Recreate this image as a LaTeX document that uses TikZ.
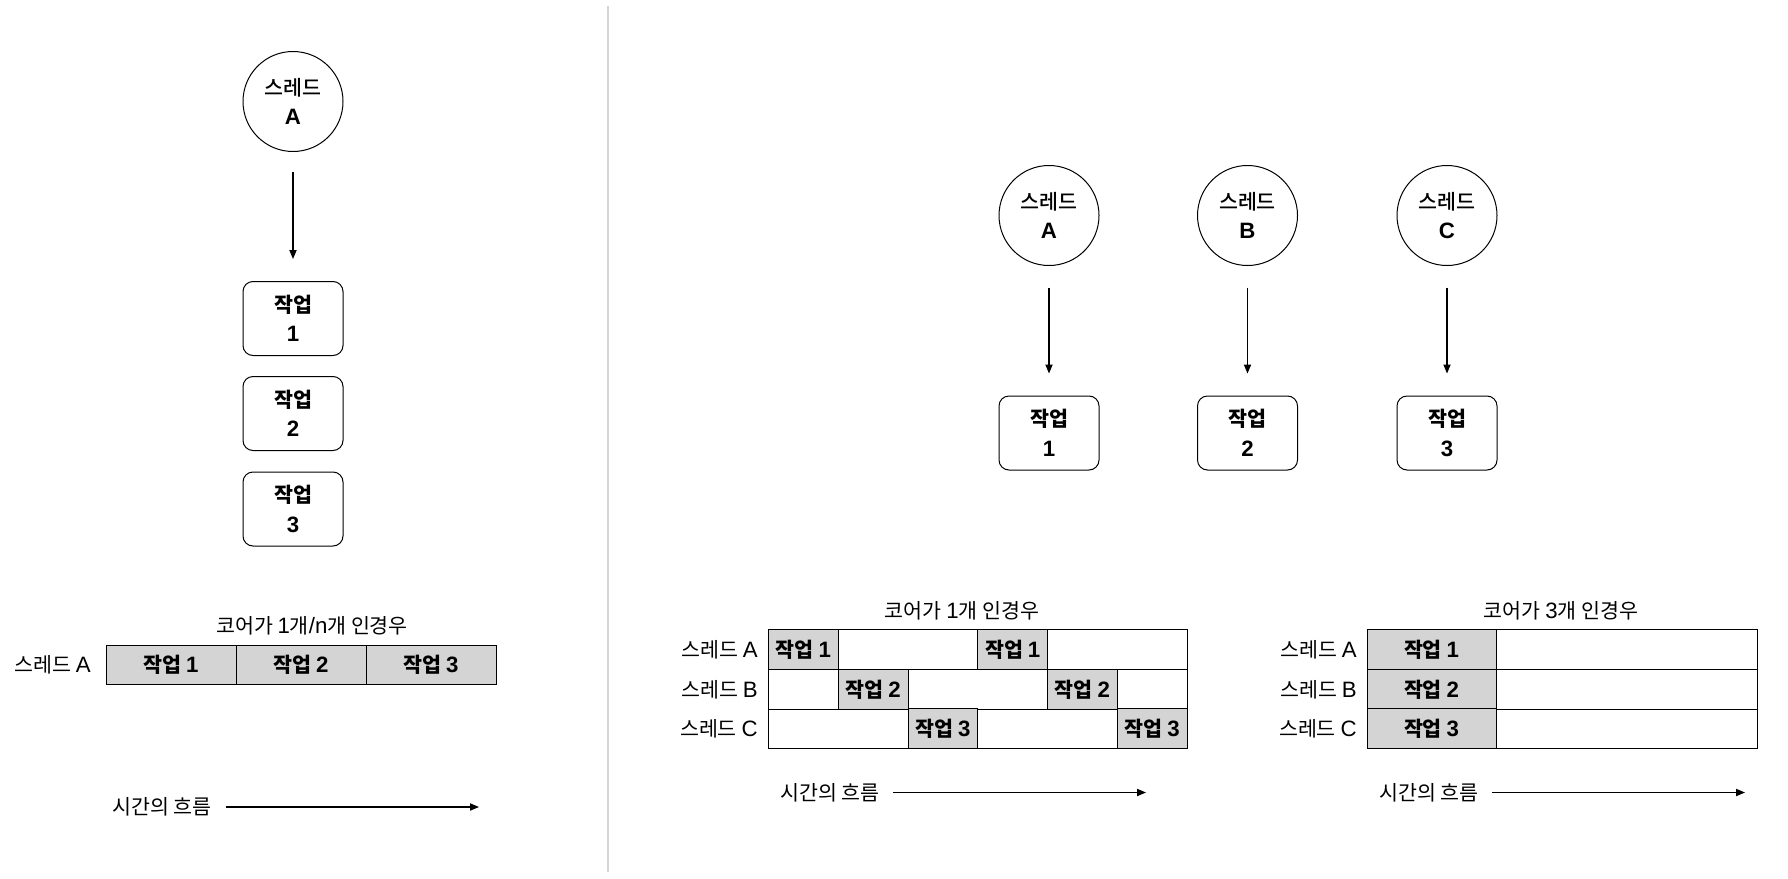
\documentclass[tikz,border=0pt]{standalone}
\usepackage{fontspec}
\setmainfont{Noto Sans CJK KR}
\newfontfamily\lat[Scale=1.08]{Liberation Sans}
\newfontfamily\med{Noto Sans CJK KR Medium}
\usetikzlibrary{arrows.meta}
\definecolor{cellgray}{RGB}{212,212,212}
\definecolor{divgray}{RGB}{212,212,212}
\begin{document}
\begin{tikzpicture}[x=0.5pt,y=-0.5pt,
  every node/.style={font=\fontsize{10.3pt}{14.8pt}\selectfont, inner sep=0pt},
  thread/.style={circle, draw, line width=0.5pt, minimum size=50pt, align=center},
  task/.style={rectangle, rounded corners=5pt, draw, line width=0.5pt, minimum width=50pt, minimum height=37pt, align=center},
  flow/.style={line width=0.6pt, -{Triangle[length=4.5pt,width=3.6pt]}},
  cell/.style={rectangle, draw, fill=cellgray, line width=0.5pt, font=\fontsize{10.3pt}{12pt}\selectfont\bfseries},
  rowbox/.style={draw, line width=0.5pt, fill=white},
]
\useasboundingbox (0,0) rectangle (1788,878);

% divider
\draw[divgray, line width=0.6pt] (608,6) -- (608,872);

% ---------- left panel ----------
\node[thread] (LA) at (293,101.5) {{\med 스레드}\\{\lat\bfseries A}};
\node[task] (LT1) at (293,318.5) {\bfseries 작업\\{\lat\bfseries 1}};
\node[task] (LT2) at (293,413.5) {\bfseries 작업\\{\lat\bfseries 2}};
\node[task] (LT3) at (293,509) {\bfseries 작업\\{\lat\bfseries 3}};
\draw[flow, shorten <=10pt, shorten >=11pt] (LA) -- (LT1);

\node (LTitle) at (312,626) {코어가 {\lat 1}개{\lat /n}개 인경우};
\node[anchor=east] (LRow) at (91,665) {스레드 {\lat A}};
\node[cell, minimum width=65pt, minimum height=19.5pt] (L1) at (171,664.5) {작업 {\lat\bfseries 1}};
\node[cell, minimum width=65pt, minimum height=19.5pt] (L2) at (301,664.5) {작업 {\lat\bfseries 2}};
\node[cell, minimum width=65pt, minimum height=19.5pt] (L3) at (431,664.5) {작업 {\lat\bfseries 3}};

\node[anchor=east] (LTime) at (212,807) {시간의 흐름};
\coordinate (LTs) at (226,807);
\coordinate (LTe) at (479,807);
\draw[flow] (LTs) -- (LTe);

% ---------- right top ----------
\node[thread] (RA) at (1049,215.5) {{\med 스레드}\\{\lat\bfseries A}};
\node[thread] (RB) at (1247.5,215.5) {{\med 스레드}\\{\lat\bfseries B}};
\node[thread] (RC) at (1447,215.5) {{\med 스레드}\\{\lat\bfseries C}};
\node[task] (RT1) at (1049,433) {\bfseries 작업\\{\lat\bfseries 1}};
\node[task] (RT2) at (1247.5,433) {\bfseries 작업\\{\lat\bfseries 2}};
\node[task] (RT3) at (1447,433) {\bfseries 작업\\{\lat\bfseries 3}};
\draw[flow, shorten <=10.75pt, shorten >=11pt] (RA) -- (RT1);
\draw[flow, shorten <=10.75pt, shorten >=11pt] (RB) -- (RT2);
\draw[flow, shorten <=10.75pt, shorten >=11pt] (RC) -- (RT3);

% ---------- middle timeline (1 core) ----------
\node (MTitle) at (962,611) {코어가 {\lat 1}개 인경우};
\node[anchor=east] (MRA) at (758,650) {스레드 {\lat A}};
\node[anchor=east] (MRB) at (758,689.5) {스레드 {\lat B}};
\node[anchor=east] (MRC) at (758,728.5) {스레드 {\lat C}};
\draw[rowbox] (768.6,629.5) rectangle (1187,669.4);
\draw[rowbox] (768.6,669.4) rectangle (1187,709.3);
\draw[rowbox] (768.6,709.3) rectangle (1187,748);
\tikzset{mcell/.style={cell, minimum width=34.85pt, minimum height=19.8pt}}
\node[mcell] (MA1) at (803.45,649.45) {작업 {\lat\bfseries 1}};
\node[mcell] (MA2) at (1012.65,649.45) {작업 {\lat\bfseries 1}};
\node[mcell] (MB1) at (873.2,689.35) {작업 {\lat\bfseries 2}};
\node[mcell] (MB2) at (1082.4,689.35) {작업 {\lat\bfseries 2}};
\node[mcell] (MC1) at (942.95,728.65) {작업 {\lat\bfseries 3}};
\node[mcell] (MC2) at (1152.15,728.65) {작업 {\lat\bfseries 3}};

\node[anchor=east] (MTime) at (880,792.5) {시간의 흐름};
\coordinate (MTs) at (893,792.5);
\coordinate (MTe) at (1146,792.5);
\draw[flow] (MTs) -- (MTe);

% ---------- right timeline (3 cores) ----------
\node (NTitle) at (1561,611) {코어가 {\lat 3}개 인경우};
\node[anchor=east] (NRA) at (1357,650) {스레드 {\lat A}};
\node[anchor=east] (NRB) at (1357,689.5) {스레드 {\lat B}};
\node[anchor=east] (NRC) at (1357,728.5) {스레드 {\lat C}};
\draw[rowbox] (1367,629.5) rectangle (1757,669.4);
\draw[rowbox] (1367,669.4) rectangle (1757,709.3);
\draw[rowbox] (1367,709.3) rectangle (1757,748);
\tikzset{ncell/.style={cell, minimum width=64.5pt, minimum height=19.8pt}}
\node[ncell] (NA) at (1431.5,649.45) {작업 {\lat\bfseries 1}};
\node[ncell] (NB) at (1431.5,689.35) {작업 {\lat\bfseries 2}};
\node[ncell] (NC) at (1431.5,728.65) {작업 {\lat\bfseries 3}};

\node[anchor=east] (NTime) at (1479,792.5) {시간의 흐름};
\coordinate (NTs) at (1491.5,792.5);
\coordinate (NTe) at (1745,792.5);
\draw[flow] (NTs) -- (NTe);
\end{tikzpicture}
\end{document}
